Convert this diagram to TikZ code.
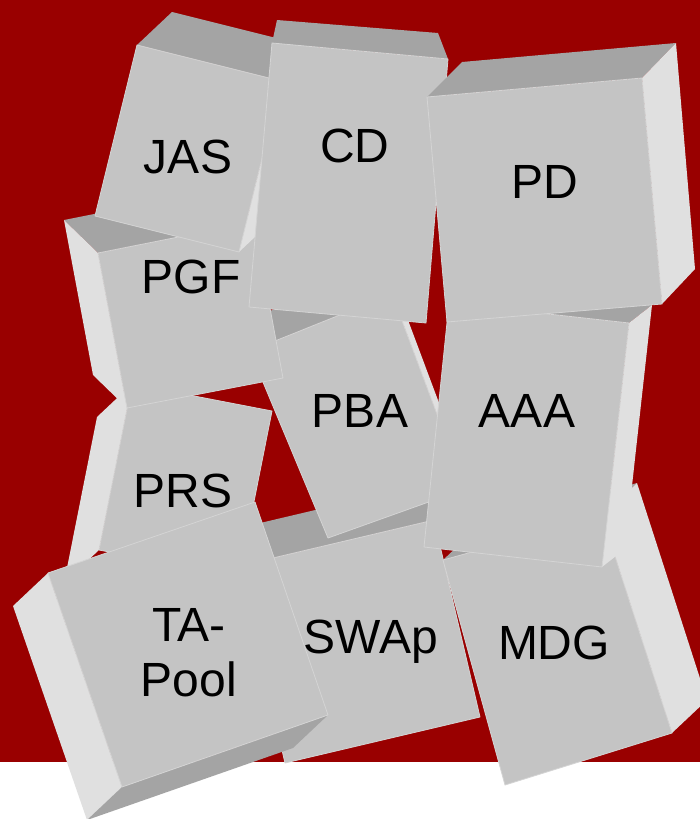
\documentclass[tikz,border=0pt]{standalone}
\usepackage{fontspec}
\setmainfont{Liberation Sans}
\usepackage{xcolor}
\usepackage{tikz}
\definecolor{bgred}{RGB}{153,0,0}
\definecolor{boxface}{RGB}{196,196,196}
\definecolor{boxtop}{RGB}{164,164,164}
\definecolor{boxside}{RGB}{224,224,224}
\definecolor{boxedge}{RGB}{212,212,212}

\begin{document}
\begin{tikzpicture}[x=1pt, y=-1pt,
  front/.style={fill=boxface, draw=boxedge, line width=0.8pt, line join=round},
  topface/.style={fill=boxtop},
  sideface/.style={fill=boxside},
  lbl/.style={font=\fontsize{48}{55}\selectfont, anchor=base, inner sep=0pt}
]
\clip (0,0) rectangle (700,819);
% Background
\fill[white] (0,0) rectangle (700,819);
\fill[bgred] (0,0) rectangle (700,762);

% SWAp
\fill[topface] (239,566) -- (434,520) -- (434,482) -- (239,528) -- cycle;
\filldraw[front] (239,566) -- (434,520) -- (480,717) -- (285,763) -- cycle;
\node[lbl] (swap) at (371,653) {SWAp};

% MDG
\fill[topface] (443,560) -- (602,516) -- (637,483) -- (478,527) -- cycle;
\fill[sideface] (602,516) -- (637,483) -- (707,700) -- (672,733) -- cycle;
\filldraw[front] (443,560) -- (602,516) -- (672,733) -- (505,785) -- cycle;
\node[lbl] (mdg) at (554,659) {MDG};

% PBA
\fill[topface] (250,351) -- (392,294) -- (387,264) -- (245,321) -- cycle;
\fill[sideface] (392,294) -- (387,264) -- (460,459) -- (465,489) -- cycle;
\filldraw[front] (250,351) -- (392,294) -- (465,489) -- (328,538) -- cycle;
\node[lbl] (pba) at (360,427) {PBA};

% PRS
\fill[sideface] (132,384) -- (99,550) -- (64,583) -- (97,417) -- cycle;
\filldraw[front] (132,384) -- (272,411) -- (239,577) -- (99,550) -- cycle;
\node[lbl] (prs) at (183,507) {PRS};

% TA-Pool
\fill[sideface] (48,573) -- (122,787) -- (87,820) -- (13,606) -- cycle;
\fill[topface] (122,787) -- (328,715) -- (293,748) -- (87,820) -- cycle;
\filldraw[front] (48,573) -- (255,502) -- (328,715) -- (122,787) -- cycle;
\node[lbl, anchor=center, align=center] (tapool) at (189,653) {TA-\\Pool};

% PGF
\fill[topface] (98,253) -- (254,222) -- (220,189) -- (64,220) -- cycle;
\fill[sideface] (98,253) -- (127,408) -- (93,375) -- (64,220) -- cycle;
\filldraw[front] (98,253) -- (254,222) -- (283,378) -- (127,408) -- cycle;
\node[lbl] (pgf) at (191,293) {PGF};

% JAS
\fill[topface] (137,45) -- (281,81) -- (316,48) -- (172,12) -- cycle;
\fill[sideface] (281,81) -- (239,252) -- (274,219) -- (316,48) -- cycle;
\filldraw[front] (137,45) -- (281,81) -- (239,252) -- (95,216) -- cycle;
\node[lbl] (jas) at (188,173) {JAS};

% CD
\fill[topface] (272,43) -- (448,59) -- (438,33) -- (277,20) -- cycle;
\filldraw[front] (272,43) -- (448,59) -- (426,323) -- (249,307) -- cycle;
\node[lbl] (cd) at (355,162) {CD};

% AAA
\fill[topface] (449,303) -- (629,323) -- (652,305) -- (472,285) -- cycle;
\fill[sideface] (629,323) -- (652,305) -- (625,549) -- (602,567) -- cycle;
\filldraw[front] (449,303) -- (629,323) -- (602,567) -- (424,547) -- cycle;
\node[lbl] (aaa) at (527,427) {AAA};

% PD
\fill[topface] (427,97) -- (642,78) -- (676,43) -- (462,62) -- cycle;
\fill[sideface] (642,78) -- (676,43) -- (695,269) -- (662,304) -- cycle;
\filldraw[front] (427,97) -- (642,78) -- (662,304) -- (447,322) -- cycle;
\node[lbl] (pd) at (545,198) {PD};
\end{tikzpicture}
\end{document}
